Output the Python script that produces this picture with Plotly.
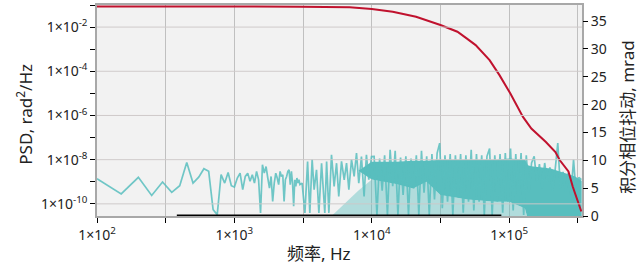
import plotly.graph_objects as go

# ---------------- data ----------------
# PSD, sparse low-frequency bins (Hz) and log10 of PSD (rad^2/Hz)
psd_freq_lo = [100, 150, 200, 250, 300, 350, 400, 450, 500, 550, 600, 650, 700, 750, 800,
               850, 900, 950, 1000, 1050, 1100, 1150, 1200, 1250, 1300, 1350, 1400, 1450,
               1500, 1550, 1600, 1650, 1700, 1750, 1800, 1850, 1900, 1950, 2000, 2050, 2100,
               2150, 2200, 2250, 2300, 2350, 2400, 2450, 2500, 2550, 2600, 2650, 2700, 2750,
               2800, 2850, 2900, 2950, 3000]
psd_exp_lo = [-8.86, -9.55, -8.80, -9.62, -9.01, -9.48, -9.18, -8.13, -9.06, -8.79, -8.41,
              -8.53, -10.26, -10.49, -8.68, -9.06, -8.58, -9.18, -9.24, -8.83, -8.61, -9.36,
              -8.76, -8.61, -8.98, -8.68, -9.06, -8.53, -8.91, -10.41, -8.23, -8.61, -8.31,
              -8.83, -9.29, -8.76, -9.89, -9.06, -8.61, -8.83, -9.13, -8.53, -8.76, -8.68,
              -9.89, -8.91, -8.76, -8.53, -8.46, -9.13, -8.53, -9.06, -10.11, -8.91, -9.21,
              -8.83, -9.06, -8.91, -9.13]

# PSD, 3 kHz - 10 kHz (selected bins)
psd_freq_mid = [3110, 3260, 3410, 3540, 3680, 3805, 3960, 4120, 4310, 4550, 4690, 4870, 5090,
                5320, 5540, 5750, 6020, 6300, 6550, 6810, 7120, 7440, 7740, 8040, 8410, 8790,
                9140, 9510, 9950]
psd_exp_mid = [-9.06, -10.41, -8.08, -10.41, -8.00, -9.36, -8.46, -10.41, -8.16, -10.41,
               -8.08, -10.41, -7.78, -9.21, -8.16, -9.66, -8.08, -8.91, -8.16, -9.36, -8.00,
               -8.76, -7.70, -9.06, -7.86, -9.66, -7.78, -8.91, -7.86]

# PSD, 10 kHz - 340 kHz (selected bins)
psd_freq_hi = [10400, 10900, 11400, 11900, 12400, 13000, 13600, 14200, 14800, 15500, 16200,
               16900, 17700, 18500, 19300, 20200, 21100, 22000, 23000, 24000, 25100, 26200,
               27400, 28600, 29900, 31200, 32600, 34100, 35600, 37200, 38900, 40600, 42400,
               44300, 46300, 48400, 50600, 52900, 55300, 57800, 60400, 63100, 65900, 68900,
               72000, 75200, 78600, 82100, 85800, 89700, 93700, 97900, 102300, 106900, 111700,
               116700, 122000, 127500, 133200, 139200, 145500, 152000, 158800, 166000, 173500,
               181300, 189400, 197900, 206800, 216100, 225800, 236000, 246600, 257700, 269300,
               281400, 294100, 307300, 321100, 335500]
psd_exp_hi = [-7.85, -10.5, -7.95, -9.4, -7.8, -10.5, -7.55, -9.2, -7.6, -10.5, -7.9, -9.6,
              -7.85, -10.5, -7.95, -9.3, -7.8, -10.5, -7.6, -9.5, -7.85, -10.5, -7.75, -9.8,
              -7.7, -7.25, -10.2, -7.8, -9.9, -7.75, -10.5, -7.8, -9.7, -7.75, -10.4, -7.8,
              -9.9, -7.55, -10.3, -7.75, -9.9, -7.8, -10.5, -7.85, -7.5, -10.5, -7.8, -9.9,
              -7.75, -10.4, -7.7, -9.9, -7.5, -10.3, -7.75, -10.0, -7.7, -10.5, -7.8, -9.5,
              -8.15, -7.85, -9.0, -8.2, -9.3, -8.15, -9.0, -8.35, -9.4, -8.45, -7.25, -9.3,
              -8.55, -9.5, -8.6, -9.6, -8.0, -9.6, -8.8, -8.9]

# dense PSD band (log10 upper / lower edge of the solid part)
band_freq = [8000, 10000, 15000, 20000, 25000, 31600, 50000, 80000, 100000, 130000, 137000,
             145000, 200000, 250000, 300000, 337000]
band_upper_exp = [-8.5, -8.1, -8.1, -8.05, -8.05, -8.0, -8.0, -8.0, -7.95, -8.0, -8.25,
                  -8.3, -8.4, -8.6, -8.75, -8.95]
band_lower_exp = [-8.5, -8.9, -9.1, -9.3, -9.0, -9.6, -9.8, -9.9, -9.9, -10.2, -10.7, -10.7,
                  -10.7, -10.7, -10.7, -10.7]

# partly covered region under the solid band (log10 upper edge)
partial_freq = [5000, 8000, 10000, 15000, 20000, 25000, 31600, 50000, 80000, 100000, 130000,
                137000]
partial_upper_exp = [-10.6, -9.4, -8.9, -9.1, -9.3, -9.0, -9.6, -9.8, -9.9, -9.9, -10.2, -10.7]

# integrated phase jitter (mrad)
jitter_freq = [100, 1000, 3000, 6900, 10000, 14200, 21000, 31600, 42000, 49000, 57000, 72000,
               85000, 102000, 126000, 145000, 185000, 217000, 233000, 270000, 290000, 335000]
jitter_mrad = [37.65, 37.65, 37.6, 37.5, 37.2, 36.7, 35.8, 34.3, 33.1, 31.9, 30.7, 28.0,
               25.3, 22.0, 17.8, 15.7, 13.3, 11.5, 10.05, 8.0, 5.3, 0.8]

# marked frequency span on the x axis
highlight_freq = [381, 87700]

# ticks
x_major = [1e2, 1e3, 1e4, 1e5]
x_major_text = ["1×10<sup>2</sup>", "1×10<sup>3</sup>", "1×10<sup>4</sup>", "1×10<sup>5</sup>"]
x_minor = [316.23, 3162.3, 31623, 316228]
y_major_exp = [-10, -8, -6, -4, -2]
y_minor_exp = [-9, -7, -5, -3, -1]
y2_ticks = [0, 5, 10, 15, 20, 25, 30, 35]

# ---------------- figure ----------------
TEAL = "rgb(88,190,190)"
RED = "rgb(192,18,46)"
FONT = "Noto Sans, Noto Sans CJK SC, sans-serif"
y_range = [-10.55, -1.0]
y_floor = -10.7

def p(exps):
    return [10 ** e for e in exps]

fig = go.Figure()

# partially covered region below the solid band
fig.add_trace(go.Scatter(x=partial_freq + partial_freq[::-1],
                         y=p(partial_upper_exp) + p([y_floor] * len(partial_freq)),
                         mode="lines", fill="toself", fillcolor="rgba(88,190,190,0.42)",
                         line=dict(width=0, color=TEAL), showlegend=False, hoverinfo="skip"))

# solid band as one closed polygon
fig.add_trace(go.Scatter(x=band_freq + band_freq[::-1],
                         y=p(band_upper_exp) + p(band_lower_exp)[::-1],
                         mode="lines", fill="toself", fillcolor=TEAL,
                         line=dict(width=0, color=TEAL), showlegend=False, hoverinfo="skip"))

fig.add_trace(go.Scatter(x=psd_freq_lo + psd_freq_mid + psd_freq_hi,
                         y=p(psd_exp_lo + psd_exp_mid + psd_exp_hi),
                         mode="lines",
                         line=dict(color="rgba(88,190,190,0.85)", width=1.7, simplify=False),
                         showlegend=False))

fig.add_trace(go.Scatter(x=highlight_freq, y=[10 ** y_range[0]] * 2, mode="lines",
                         line=dict(color="black", width=3), cliponaxis=False,
                         showlegend=False))

fig.add_trace(go.Scatter(x=jitter_freq, y=jitter_mrad, yaxis="y2", mode="lines",
                         line=dict(color=RED, width=2), showlegend=False))

# horizontal grid drawn above the data
for e in y_major_exp:
    fig.add_shape(type="line", xref="paper", yref="y", x0=0, x1=1, y0=10 ** e, y1=10 ** e,
                  line=dict(color="rgba(205,200,200,0.95)", width=1), layer="above")

# axis titles
fig.add_annotation(text="PSD, rad<sup>2</sup>/Hz", xref="paper", yref="paper", x=0, y=0.48,
                   xanchor="center", yanchor="middle", xshift=-72, textangle=-90,
                   showarrow=False, font=dict(size=17))
fig.add_annotation(text="积分相位抖动, mrad", xref="paper", yref="paper", x=1, y=0.47,
                   xanchor="center", yanchor="middle", xshift=46, textangle=-90,
                   showarrow=False, font=dict(size=17))
fig.add_annotation(text="频率, Hz", xref="paper", yref="paper", x=0.5, y=0,
                   xanchor="center", yanchor="middle", xshift=-21, yshift=-37,
                   showarrow=False, font=dict(size=17))

fig.update_layout(
    width=643, height=271,
    margin=dict(l=97, r=61, t=5, b=55, autoexpand=False),
    paper_bgcolor="white", plot_bgcolor="#f2f2f2",
    font=dict(family=FONT, size=14, color="#222"),
    xaxis=dict(type="log", range=[2, 5.53], automargin=False,
               tickvals=x_major, ticktext=x_major_text, ticks="outside", ticklen=5,
               tickcolor="black", showgrid=True, gridcolor="#c0c0c0", gridwidth=1,
               minor=dict(tickvals=x_minor, ticks="outside", ticklen=5, tickcolor="black",
                          showgrid=True, gridcolor="#c0c0c0"),
               showline=True, linecolor="#a8a8a8", linewidth=1.5, mirror=True,
               zeroline=False),
    yaxis=dict(type="log", range=y_range, automargin=False,
               tickvals=[10 ** e for e in y_major_exp],
               ticktext=["1×10<sup>%d</sup>" % e for e in y_major_exp],
               ticks="outside", ticklen=5, tickcolor="black", showgrid=False,
               minor=dict(tickvals=[10 ** e for e in y_minor_exp], ticks="outside",
                          ticklen=5, tickcolor="black", showgrid=False),
               showline=True, linecolor="#a8a8a8", linewidth=1.5, mirror=True,
               zeroline=False),
    yaxis2=dict(overlaying="y", side="right", range=[0, 37.9], tickvals=y2_ticks,
                automargin=False,
                ticks="outside", ticklen=5, tickcolor="black", showgrid=False,
                zeroline=False, showline=False),
)

fig.write_html("out.html", config={"displayModeBar": False},
               post_script="document.body.style.margin='0';document.body.style.overflow='hidden';")
